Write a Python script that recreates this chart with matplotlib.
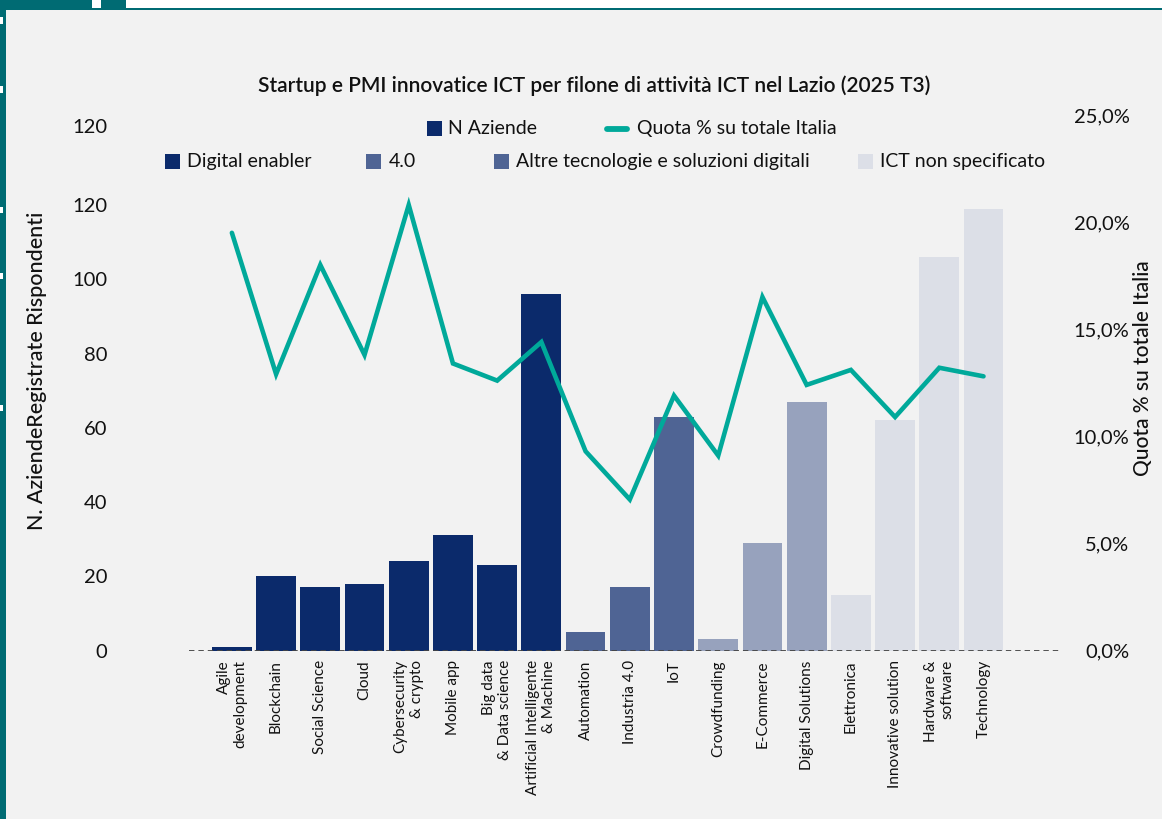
import matplotlib
matplotlib.use("Agg")
import matplotlib.pyplot as plt
from matplotlib.patches import Rectangle
from matplotlib.lines import Line2D

plt.rcParams['font.family'] = ['Lato', 'DejaVu Sans']

# --- data -------------------------------------------------------------
categories = [
    "Agile\ndevelopment", "Blockchain", "Social Science", "Cloud",
    "Cybersecurity\n& crypto", "Mobile app", "Big data\n& Data science",
    "Artificial Intelligente\n& Machine", "Automation", "Industria 4.0", "IoT",
    "Crowdfunding", "E-Commerce", "Digital Solutions", "Elettronica",
    "Innovative solution", "Hardware &\nsoftware", "Technology",
]
n_aziende = [1, 20, 17, 18, 24, 31, 23, 96, 5, 17, 63, 3, 29, 67, 15, 62, 106, 119]
quota_pct = [19.5, 12.9, 18.0, 13.8, 20.8, 13.4, 12.6, 14.4, 9.3, 7.05, 11.9,
             9.1, 16.5, 12.4, 13.1, 10.9, 13.2, 12.8]
# group of each category: 0 Digital enabler, 1 4.0, 2 Altre tecnologie, 3 ICT n.s.
category_group = [0, 0, 0, 0, 0, 0, 0, 0, 1, 1, 1, 2, 2, 2, 3, 3, 3, 3]
group_names = ["Digital enabler", "4.0", "Altre tecnologie e soluzioni digitali",
               "ICT non specificato"]
group_colors = ["#0b2a6b", "#4f6494", "#97a2bd", "#dcdfe7"]
legend_group_colors = ["#0b2a6b", "#4f6494", "#4f6494", "#dcdfe7"]
series_names = ["N Aziende", "Quota % su totale Italia"]

left_ticks = [0, 20, 40, 60, 80, 100, 120, 141.5]
left_tick_labels = ["0", "20", "40", "60", "80", "100", "120", "120"]
right_ticks = [0, 5, 10, 15, 20, 25]

title = "Startup e PMI innovatice ICT per filone di attività ICT nel Lazio (2025 T3)"
left_label = "N. AziendeRegistrate Rispondenti"
right_label = "Quota % su totale Italia"

TEAL_FRAME = "#006b73"
LINE_TEAL = "#00a99a"
BG = "#f2f2f2"
TXT = "#111111"

W, H = 1162, 819
fig = plt.figure(figsize=(W / 100, H / 100), dpi=100)
fig.patch.set_facecolor("white")


def fx(px):
    return px / W


def fy(py):
    return 1 - py / H


def frect(x0, y0, x1, y1, color, z=0):
    fig.add_artist(Rectangle((fx(x0), fy(y1)), fx(x1) - fx(x0), fy(y0) - fy(y1),
                             transform=fig.transFigure, facecolor=color,
                             edgecolor="none", zorder=z))


# panel background and frame
frect(5, 9.5, W, H, BG, 0)
frect(0, 7.5, W, 9.5, TEAL_FRAME, 1)
frect(0, 0, 6, H, TEAL_FRAME, 1)
frect(0, 0, 92, 8, TEAL_FRAME, 1)
frect(101, 0, 126, 8, TEAL_FRAME, 1)
frect(92, 0, 101, 8, "white", 1)
for y0, y1 in [(17, 24), (86, 93), (207, 213), (273, 279), (405, 411)]:
    frect(0, y0, 3, y1, "white", 2)

# --- axes ---------------------------------------------------------------
x_left, x_right, y_base, y_top = 189, 1060, 650.5, 115
ax = fig.add_axes([fx(x_left), fy(y_base), fx(x_right) - fx(x_left),
                   fy(y_top) - fy(y_base)])
ax.set_facecolor("none")
ax2 = ax.twinx()
ax2.set_zorder(ax.get_zorder() + 1)
ax2.patch.set_visible(False)

x = list(range(len(categories)))
bar_colors = [group_colors[g] for g in category_group]
ax.bar(x, n_aziende, width=0.9, color=bar_colors, zorder=2)
ax.axhline(0, color="#444444", lw=1.3, ls=(0, (3, 2.2)), zorder=4)

ax.set_xlim(-0.97, 18.73)
ax.set_ylim(0, (y_base - y_top) / 3.71)
ax2.set_ylim(0, 25)

ax2.plot(x, quota_pct, color=LINE_TEAL, lw=3.3, solid_joinstyle="miter",
         solid_capstyle="round", zorder=5)

for a in (ax, ax2):
    for s in a.spines.values():
        s.set_visible(False)

ax.set_xticks(x)
ax.set_xticklabels(categories, rotation=90, fontsize=11, va="top", ha="center",
                   multialignment="right", color=TXT)
ax.tick_params(axis="x", length=0, pad=7)

ax.set_yticks(left_ticks)
ax.set_yticklabels(left_tick_labels, fontsize=14.5, color=TXT)
ax.tick_params(axis="y", length=0, pad=59)

ax2.set_yticks(right_ticks)
ax2.set_yticklabels([f"{v:.1f}".replace(".", ",") + "%" for v in right_ticks],
                    fontsize=14.5, color=TXT, ha="right")
ax2.tick_params(axis="y", length=0, pad=50)

# --- titles and axis labels ---------------------------------------------
fig.text(fx(594), fy(86), title, fontsize=15, fontweight="semibold",
         ha="center", va="center", color=TXT)
fig.text(fx(37), fy(371), left_label, rotation=90, fontsize=15.5,
         fontweight="medium", ha="center", va="center", color=TXT)
fig.text(fx(1143), fy(368), right_label, rotation=90, fontsize=15,
         fontweight="medium", ha="center", va="center", color=TXT)

# --- legend rows ----------------------------------------------------------
# row 1: series
frect(427, 121, 442, 136, group_colors[0], 3)
fig.text(fx(448), fy(128.5), series_names[0], fontsize=14, ha="left",
         va="center", color=TXT)
fig.add_artist(Line2D([fx(607), fx(627)], [fy(128.5), fy(128.5)],
                      transform=fig.transFigure, color=LINE_TEAL, lw=4.2,
                      solid_capstyle="round", zorder=3))
fig.text(fx(637), fy(128.5), series_names[1], fontsize=14, ha="left",
         va="center", color=TXT)

# row 2: category groups
square_x = [165, 366, 494, 858]
text_x = [187, 389, 516, 880]
for sx, tx, name, col in zip(square_x, text_x, group_names, legend_group_colors):
    frect(sx, 154, sx + 15, 169, col, 3)
    fig.text(fx(tx), fy(161.5), name, fontsize=14, ha="left", va="center",
             color=TXT)

fig.savefig("out.png", dpi=100)
